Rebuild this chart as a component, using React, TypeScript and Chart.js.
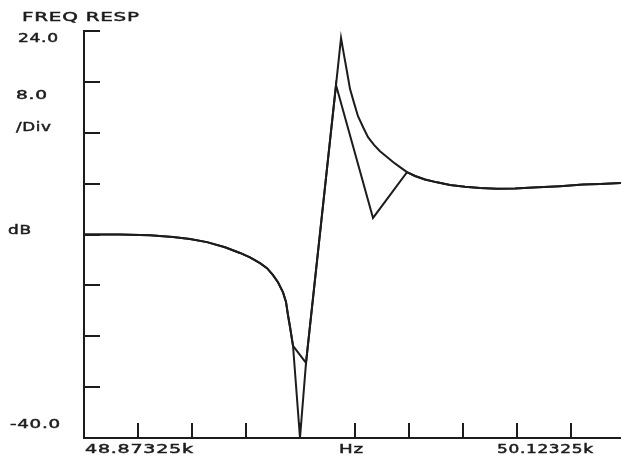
import React, { useEffect, useRef } from "react";
import { Chart, registerables } from "chart.js";

Chart.register(...registerables);

// ---- Data (frequency in kHz, response in dB) ----
const FREQ_START = 48.87325;
const FREQ_END_VISIBLE = 50.11375;
const DB_MIN = -40;
const DB_MAX = 24;

// Fine trace
const FREQ_A = [
  48.87325, 48.9564, 49.0257, 49.0789, 49.1181, 49.1574, 49.199, 49.2336,
  49.2567, 49.2798, 49.296, 49.3099, 49.3214, 49.333, 49.3399, 49.3445,
  49.3491, 49.3561, 49.3722, 49.3861, 49.4554, 49.467, 49.4739, 49.4808,
  49.4877, 49.497, 49.5062, 49.5178, 49.5293, 49.5432, 49.557, 49.5732,
  49.5871, 49.6032, 49.6194, 49.6379, 49.661, 49.6887, 49.7188, 49.7534,
  49.7881, 49.8273, 49.8689, 49.9105, 49.9729, 50.026, 50.0653, 50.1138,
];
const DB_A = [
  -8.0, -8.0, -8.1, -8.4, -8.7, -9.2, -10.0, -10.9,
  -11.6, -12.5, -13.3, -14.4, -15.5, -17.1, -18.6, -20.7,
  -22.5, -25.5, -40.0, -28.2, 15.5, 22.9, 20.2, 17.6,
  14.9, 12.7, 10.6, 8.9, 7.3, 6.1, 5.1, 4.2,
  3.4, 2.6, 1.8, 1.2, 0.65, 0.2, -0.2, -0.5,
  -0.7, -0.8, -0.75, -0.6, -0.4, -0.15, -0.05, 0.1,
];

// Coarse trace
const FREQ_B = [
  48.87325, 48.9564, 49.0257, 49.0789, 49.1181, 49.1574, 49.199, 49.2336,
  49.2567, 49.2798, 49.296, 49.3099, 49.3214, 49.333, 49.3399, 49.3445,
  49.3491, 49.3561, 49.3861, 49.4554, 49.5409, 49.6194, 49.6379, 49.661,
  49.6887, 49.7188, 49.7534, 49.7881, 49.8273, 49.8689, 49.9105, 49.9729,
  50.026, 50.0653, 50.1138,
];
const DB_B = [
  -8.0, -8.0, -8.1, -8.4, -8.7, -9.2, -10.0, -10.9,
  -11.6, -12.5, -13.3, -14.4, -15.5, -17.1, -18.6, -20.7,
  -22.5, -25.5, -28.2, 15.5, -5.4, 1.8, 1.2, 0.65,
  0.2, -0.2, -0.5, -0.7, -0.8, -0.75, -0.6, -0.4,
  -0.15, -0.05, 0.1,
];

const X_TICKS = [
  48.99825, 49.12325, 49.24825, 49.37325, 49.49825, 49.62325, 49.74825,
  49.87325, 49.99825,
];
const Y_TICKS = [24, 16, 8, 0, -8, -16, -24, -32];

const TITLE = "FREQ RESP";
const Y_TOP_LABEL = "24.0";
const Y_BOTTOM_LABEL = "-40.0";
const Y_SCALE_LABEL = "8.0";
const Y_DIV_LABEL = "/Div";
const Y_UNIT_LABEL = "dB";
const X_START_LABEL = "48.87325k";
const X_UNIT_LABEL = "Hz";
const X_STOP_LABEL = "50.12325k";

const INK = "#1c1c1c";

function fitText(
  ctx: CanvasRenderingContext2D,
  text: string,
  left: number,
  right: number,
  baseline: number
) {
  ctx.save();
  ctx.font = '13px "DejaVu Sans"';
  (ctx as any).letterSpacing = "0.5px";
  const w = ctx.measureText(text).width - 0.5;
  const sx = (right - left) / w;
  ctx.translate(left, baseline);
  ctx.scale(sx, 1);
  ctx.textAlign = "left";
  ctx.textBaseline = "alphabetic";
  ctx.fillStyle = INK;
  ctx.strokeStyle = INK;
  ctx.lineWidth = 0.5;
  ctx.fillText(text, 0, 0);
  ctx.strokeText(text, 0, 0);
  ctx.restore();
}

const axesPlugin = {
  id: "plotterAxes",
  afterDraw(chart: any) {
    const ctx: CanvasRenderingContext2D = chart.ctx;
    const xs = chart.scales.x;
    const ys = chart.scales.y;
    const { left, bottom } = chart.chartArea;
    ctx.save();
    ctx.strokeStyle = INK;
    ctx.lineWidth = 2;
    ctx.lineCap = "butt";
    // axes
    ctx.beginPath();
    ctx.moveTo(left, ys.getPixelForValue(DB_MAX) - 1);
    ctx.lineTo(left, bottom + 1);
    ctx.moveTo(left - 1, bottom);
    ctx.lineTo(chart.width, bottom);
    ctx.stroke();
    // y ticks
    ctx.beginPath();
    for (const v of Y_TICKS) {
      const y = Math.round(ys.getPixelForValue(v));
      ctx.moveTo(left, y);
      ctx.lineTo(left + 16, y);
    }
    // x ticks
    for (const v of X_TICKS) {
      const x = Math.round(xs.getPixelForValue(v));
      ctx.moveTo(x, bottom);
      ctx.lineTo(x, bottom - 15);
    }
    ctx.stroke();
    ctx.restore();

    fitText(ctx, TITLE, 22, 139, 20.5);
    fitText(ctx, Y_TOP_LABEL, 18, 58, 41.5);
    fitText(ctx, Y_SCALE_LABEL, 16, 47, 99);
    fitText(ctx, Y_DIV_LABEL, 16, 51, 130.5);
    fitText(ctx, Y_UNIT_LABEL, 8, 31, 234);
    fitText(ctx, Y_BOTTOM_LABEL, 10, 60, 428);
    fitText(ctx, X_START_LABEL, 85, 193, 453);
    fitText(ctx, X_UNIT_LABEL, 339, 363, 453);
    fitText(ctx, X_STOP_LABEL, 497, 593, 453);
  },
};

export default function App() {
  const ref = useRef<HTMLCanvasElement | null>(null);
  useEffect(() => {
    if (!ref.current) return;
    const toPoints = (xs: number[], ys: number[]) =>
      xs.map((x, i) => ({ x, y: ys[i] }));
    const chart = new Chart(ref.current, {
      type: "line",
      data: {
        datasets: [
          {
            data: toPoints(FREQ_A, DB_A),
            borderColor: INK,
            borderWidth: 2,
            pointRadius: 0,
            tension: 0,
            fill: false,
            clip: 4,
          } as any,
          {
            data: toPoints(FREQ_B, DB_B),
            borderColor: INK,
            borderWidth: 2,
            pointRadius: 0,
            tension: 0,
            fill: false,
            clip: 4,
          } as any,
        ],
      },
      options: {
        animation: false,
        responsive: false,
        devicePixelRatio: 1,
        layout: { padding: { left: 84, top: 31, right: 0, bottom: 20 } },
        plugins: {
          legend: { display: false },
          tooltip: { enabled: false },
          title: { display: false },
        },
        scales: {
          x: { type: "linear", min: FREQ_START, max: FREQ_END_VISIBLE, display: false },
          y: { type: "linear", min: DB_MIN, max: DB_MAX, display: false },
        },
      },
      plugins: [axesPlugin],
    });
    return () => chart.destroy();
  }, []);
  return (
    <div
      style={{
        position: "fixed",
        left: 0,
        top: 0,
        width: 621,
        height: 458,
        background: "#ffffff",
      }}
    >
      <canvas ref={ref} width={621} height={458} />
    </div>
  );
}
